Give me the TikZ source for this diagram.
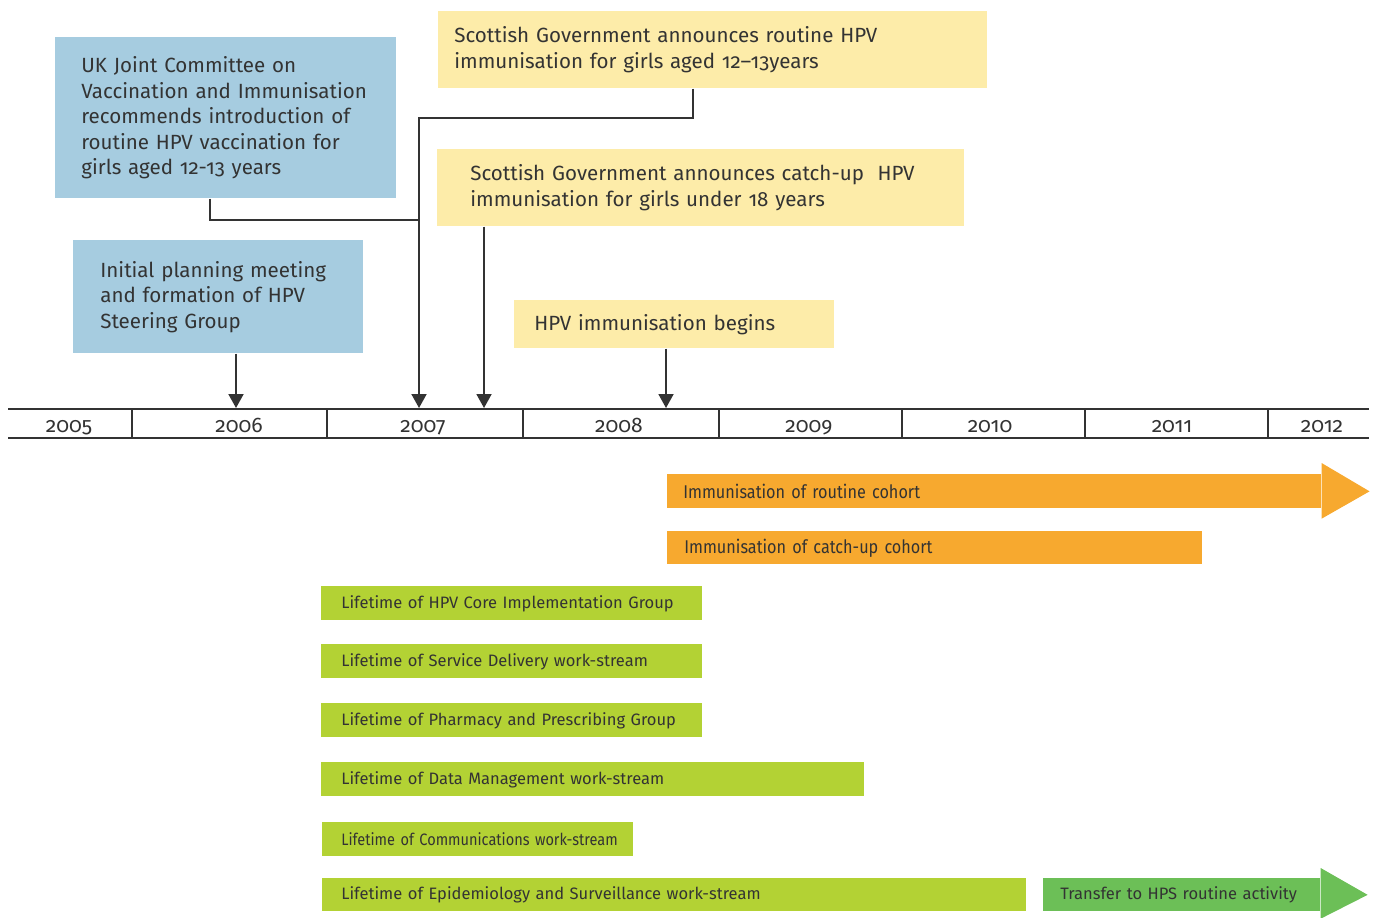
\documentclass[tikz,border=0pt]{standalone}
\usepackage{fontspec}
\setmainfont{Fira Sans}[Numbers=OldStyle]
\newfontfamily\condfont{Fira Sans}[FakeStretch=0.88]
\usepackage{xcolor}
\usetikzlibrary{arrows.meta,positioning}

\definecolor{ink}{HTML}{333333}
\definecolor{jcblue}{HTML}{A6CCE0}
\definecolor{govyellow}{HTML}{FDECA9}
\definecolor{cohort}{HTML}{F7A92F}
\definecolor{lifelime}{HTML}{B3D234}
\definecolor{hpsgreen}{HTML}{6CBF57}

\begin{document}
\begin{tikzpicture}[x=0.02cm, y=-0.02cm,
    note/.style={anchor=north west, inner ysep=0pt, align=left, text=ink, font=\fontsize{11.7}{14.6}\selectfont},
    bar/.style={anchor=north west, inner ysep=0pt, minimum height=0.68cm, align=left, text=ink, font=\fontsize{9.4}{11}\selectfont},
    year/.style={anchor=base, text=ink, font=\fontsize{12}{14}\selectfont},
    axis/.style={line width=1.3pt, ink},
    link/.style={line width=1.1pt, ink},
    arr/.style={link, -{Triangle[length=0.28cm, width=0.3cm]}}
]
\useasboundingbox (0,0) rectangle (1375,918);

% event boxes
\node[note, fill=jcblue, inner xsep=0.52cm, text width=5.78cm, minimum height=3.22cm] (jc) at (55,37)
    {UK Joint Committee on\\ Vaccination and Immunisation\\ recommends introduction of\\ routine HPV vaccination for\\ girls aged 12-13 years};
\node[note, fill=jcblue, inner xsep=0.54cm, text width=4.72cm, minimum height=2.26cm] (ip) at (73,240)
    {Initial planning meeting\\ and formation of HPV\\ Steering Group};
\node[note, fill=govyellow, inner xsep=0.32cm, text width=10.34cm, minimum height=1.54cm] (sr) at (438,11)
    {Scottish Government announces routine HPV\\ immunisation for girls aged 12--13years};
\node[note, fill=govyellow, inner xsep=0.66cm, text width=9.22cm, minimum height=1.54cm] (sc) at (437,149)
    {Scottish Government announces catch-up\ \ HPV\\ immunisation for girls under 18 years};
\node[note, fill=govyellow, inner xsep=0.4cm, text width=5.6cm, minimum height=0.96cm] (hb) at (514,300)
    {HPV immunisation begins};

% time line
\draw[axis] (8,409) -- (1369,409);
\draw[axis] (8,438) -- (1369,438);
\foreach \xd in {132,327,523,719,902,1085,1268}
    \draw[axis] (\xd,409) -- (\xd,438);
\foreach \yr/\xc in {2005/69,2006/239,2007/423,2008/619,2009/809,2010/990,2011/1172,2012/1322}
    \node[year] (y\yr) at (\xc,433) {\yr};

\coordinate (t2006) at (236,408);
\coordinate (t2007a) at (419,408);
\coordinate (t2007b) at (484,408);
\coordinate (t2008) at (666,408);
\coordinate (jn) at (419,220);

\draw[arr] (ip.south -| t2006) -- (t2006);
\draw[arr] ([xshift=-0.39cm]sr.south) -- ++(0,29) -| (t2007a);
\draw[link] ([xshift=-0.31cm]jc.south) |- (jn);
\draw[arr] (sc.south -| t2007b) -- (t2007b);
\draw[arr] (hb.south -| t2008) -- (t2008);

% immunisation bars
\node[bar, fill=cohort, inner xsep=0.32cm, text width=12.44cm, font=\condfont\fontsize{10.5}{12}\selectfont] (rc) at (667,474)
    {Immunisation of routine cohort};
\fill[cohort] ([yshift=0.22cm]rc.north east) -- ([xshift=0.96cm]rc.east) -- ([yshift=-0.2cm]rc.south east) -- cycle;
\node[bar, fill=cohort, inner xsep=0.34cm, text width=10.02cm, minimum height=0.66cm, font=\condfont\fontsize{10.5}{12}\selectfont] (cc) at (667,531)
    {Immunisation of catch-up cohort};

% group lifetimes
\node[bar, fill=lifelime, inner xsep=0.4cm, text width=6.82cm] (core) at (321,586)
    {Lifetime of HPV Core Implementation Group};
\node[bar, fill=lifelime, inner xsep=0.4cm, text width=6.82cm] (sd) at (321,644)
    {Lifetime of Service Delivery work-stream};
\node[bar, fill=lifelime, inner xsep=0.4cm, text width=6.82cm] (pp) at (321,703)
    {Lifetime of Pharmacy and Prescribing Group};
\node[bar, fill=lifelime, inner xsep=0.4cm, text width=10.06cm] (dm) at (321,762)
    {Lifetime of Data Management work-stream};
\node[bar, fill=lifelime, inner xsep=0.38cm, text width=5.46cm, font=\condfont\fontsize{9.4}{11}\selectfont] (cm) at (322,822)
    {\mbox{Lifetime of Communications work-stream}};
\node[bar, fill=lifelime, inner xsep=0.38cm, text width=13.32cm, minimum height=0.66cm] (es) at (322,878)
    {Lifetime of Epidemiology and Surveillance work-stream};

\node[bar, fill=hpsgreen, inner xsep=0.34cm, text width=4.86cm, minimum height=0.66cm] (tr) at (1043,878)
    {Transfer to HPS routine activity};
\fill[hpsgreen] ([yshift=0.2cm]tr.north east) -- ([xshift=0.94cm]tr.east) -- ([yshift=-0.14cm]tr.south east) -- cycle;
\end{tikzpicture}
\end{document}
